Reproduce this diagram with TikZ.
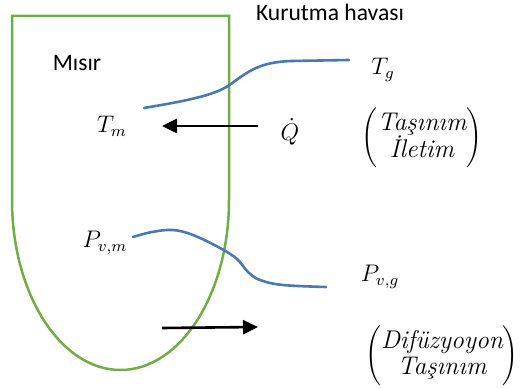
\RequirePackage{fix-cm}
\documentclass[tikz,border=0pt]{standalone}
\usepackage{fontspec}
\newfontfamily\calibri{Carlito}
\usetikzlibrary{arrows.meta}
\definecolor{cornGreen}{HTML}{70AD47}
\definecolor{curveBlue}{HTML}{4A78B0}
\tikzset{
  sanslabel/.style={inner sep=0pt, font=\calibri\fontsize{11.8}{13}\selectfont},
  mathlabel/.style={inner sep=0pt, font=\fontsize{12}{14}\selectfont},
  parenlabel/.style={inner sep=0pt, font=\fontsize{12.8}{15}\selectfont},
  profile/.style={curveBlue, line width=1.3pt, line cap=round},
  flux/.style={black, line width=1.3pt, -{Triangle[length=7.5pt,width=7pt]}},
}
\begin{document}
\begin{tikzpicture}[x=0.5pt,y=-0.5pt]
\useasboundingbox (0,0) rectangle (524,389);
% corn kernel outline
\draw[cornGreen, line width=1.25pt] (12,200) -- (12,16) -- (229,16) -- (229,200)
  arc[start angle=0, end angle=-180, x radius=54.25pt, y radius=85pt];
% labels
\node[sanslabel, anchor=base] (air) at (330,21) {Kurutma havası};
\node[sanslabel, anchor=base] (corn) at (77,71) {Mısır};
\node[mathlabel, anchor=base] (Tm) at (112,133) {$T_m$};
\node[mathlabel, anchor=base] (Q) at (290,141) {$\dot{Q}$};
\node[mathlabel, anchor=base] (Tg) at (383,75) {$T_g$};
\node[mathlabel, anchor=base] (Pvm) at (105,248) {$P_{v,m}$};
\node[mathlabel, anchor=base] (Pvg) at (380,282) {$P_{v,g}$};
\node[parenlabel] (heat) at (422,138)
  {$\left(\begin{array}{@{}c@{}}\mbox{\itshape Taşınım}\\[-2pt] \mbox{\itshape İletim}\end{array}\right)$};
\node[parenlabel] (mass) at (442,356)
  {$\left(\begin{array}{@{}c@{}}\mbox{\itshape Difüzyoyon}\\[-2pt] \mbox{\itshape Taşınım}\end{array}\right)$};
% temperature profile
\draw[profile] (144,108) .. controls (185,101) and (212,96) .. (228,86)
  .. controls (248,72) and (258,62) .. (292,61) -- (349,60);
% vapour pressure profile
\draw[profile] plot[smooth, tension=0.6] coordinates
  {(133,237) (152,232) (173,230) (193,235) (220,248) (237,259) (248,272) (260,280) (283,285) (326,287)};
% fluxes
\coordinate (qs) at (258,126);
\coordinate (qe) at (162,126);
\coordinate (ms) at (162,328);
\coordinate (me) at (258,327);
\draw[flux] (qs) -- (qe);
\draw[flux] (ms) -- (me);
\end{tikzpicture}
\end{document}
